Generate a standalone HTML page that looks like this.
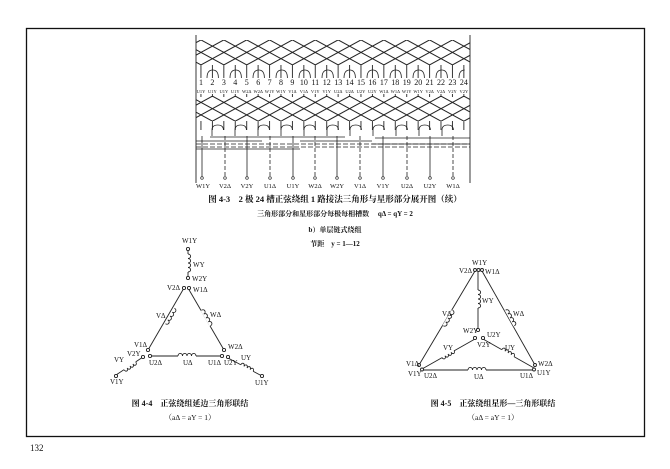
<!DOCTYPE html>
<html><head><meta charset="utf-8"><style>
html,body{margin:0;padding:0;background:#fff}
svg{display:block}
text{font-family:"Liberation Serif","Noto Serif CJK SC","Noto Sans CJK SC",serif;fill:#111}
.b{font-weight:bold}
</style></head><body>
<svg width="670" height="469" viewBox="0 0 670 469" xmlns="http://www.w3.org/2000/svg">
<defs>
<pattern id="lat" x="201" y="40" width="22.86" height="12.5" patternUnits="userSpaceOnUse">
<path d="M0,0 L22.86,12.5 M22.86,0 L0,12.5" stroke="#222" stroke-width="0.8" fill="none"/>
</pattern>
<pattern id="lat2" x="212.4" y="46" width="22.86" height="12.5" patternUnits="userSpaceOnUse">
<path d="M0,0 L22.86,12.5 M22.86,0 L0,12.5" stroke="#222" stroke-width="0.7" fill="none"/>
</pattern>
<pattern id="vt" x="200.5" y="0" width="11.43" height="10" patternUnits="userSpaceOnUse">
<rect x="0" y="0" width="0.9" height="10" fill="#222"/>
</pattern>
</defs>
<rect x="0" y="0" width="670" height="469" fill="#fff"/>
<rect x="26.5" y="28.5" width="618" height="408" fill="none" stroke="#111" stroke-width="1.3"/>
<text x="30" y="451" font-size="9">132</text>

<line x1="196" y1="35" x2="196" y2="183" stroke="#222" stroke-width="0.9"/>
<line x1="470" y1="35" x2="470" y2="183" stroke="#222" stroke-width="0.9"/>
<rect x="196" y="40" width="274" height="25" fill="url(#lat)"/>
<rect x="196" y="40" width="274" height="25" fill="url(#lat2)"/>
<rect x="196" y="65" width="274" height="13" fill="url(#vt)"/>
<rect x="196" y="94" width="274" height="3" fill="url(#vt)"/>
<rect x="196" y="96" width="274" height="25" fill="url(#lat)"/>
<rect x="196" y="96" width="274" height="25" fill="url(#lat2)"/>
<rect x="196" y="121" width="274" height="9" fill="url(#vt)"/>
<g fill="none" stroke="#222" stroke-width="0.8">
<path d="M207,78 q0,-8 5.7,-8 q5.7,0 5.7,8 M230,78 q0,-8 5.7,-8 q5.7,0 5.7,8 M253,78 q0,-8 5.7,-8 q5.7,0 5.7,8 M276,78 q0,-8 5.7,-8 q5.7,0 5.7,8 M299,78 q0,-8 5.7,-8 q5.7,0 5.7,8 M322,78 q0,-8 5.7,-8 q5.7,0 5.7,8 M344,78 q0,-8 5.7,-8 q5.7,0 5.7,8 M367,78 q0,-8 5.7,-8 q5.7,0 5.7,8 M390,78 q0,-8 5.7,-8 q5.7,0 5.7,8 M413,78 q0,-8 5.7,-8 q5.7,0 5.7,8 M436,78 q0,-8 5.7,-8 q5.7,0 5.7,8 M459,78 q0,-8 5.7,-8"/>
<path d="M212,136 V130 q0,-5 5.7,-5 q5.7,0 5.7,5 M235,136 V130 q0,-5 5.7,-5 q5.7,0 5.7,5 M258,136 V130 q0,-5 5.7,-5 q5.7,0 5.7,5 M281,136 V130 q0,-5 5.7,-5 q5.7,0 5.7,5 M304,136 V130 q0,-5 5.7,-5 q5.7,0 5.7,5 M327,136 V130 q0,-5 5.7,-5 q5.7,0 5.7,5 M350,136 V130 q0,-5 5.7,-5 q5.7,0 5.7,5 M373,136 V130 q0,-5 5.7,-5 q5.7,0 5.7,5 M396,136 V130 q0,-5 5.7,-5 q5.7,0 5.7,5 M419,136 V130 q0,-5 5.7,-5 q5.7,0 5.7,5 M442,136 V130 q0,-5 5.7,-5 q5.7,0 5.7,5"/>
<path d="M196,141 H262 M300,137 H345 M375,138 H470 M196,149 H300"/>
<path d="M196,144 H470 M196,147 H470" stroke-dasharray="5,2"/>
<path d="M210,137 H300 M300,141 H372 M372,144 H470"/>
<path d="M202,136 V177 M247,136 V177 M293,136 V177 M337,136 V177 M383,136 V177 M430,136 V177"/>
<path d="M225,136 V177 M270,136 V177 M315,136 V177 M360,136 V177 M407,136 V177 M453,136 V177" stroke-dasharray="4,2"/>
</g>
<g fill="#fff" stroke="#222" stroke-width="0.7">
<circle cx="202" cy="178" r="1.3"/><circle cx="225" cy="178" r="1.3"/><circle cx="247" cy="178" r="1.3"/><circle cx="270" cy="178" r="1.3"/><circle cx="293" cy="178" r="1.3"/><circle cx="315" cy="178" r="1.3"/><circle cx="337" cy="178" r="1.3"/><circle cx="360" cy="178" r="1.3"/><circle cx="383" cy="178" r="1.3"/><circle cx="407" cy="178" r="1.3"/><circle cx="430" cy="178" r="1.3"/><circle cx="453" cy="178" r="1.3"/>
</g>
<g font-size="8" text-anchor="middle">
<text x="201" y="85">1</text><text x="212.4" y="85">2</text><text x="223.9" y="85">3</text><text x="235.3" y="85">4</text><text x="246.7" y="85">5</text><text x="258.2" y="85">6</text><text x="269.6" y="85">7</text><text x="281" y="85">8</text><text x="292.4" y="85">9</text><text x="303.9" y="85">10</text><text x="315.3" y="85">11</text><text x="326.7" y="85">12</text><text x="338.2" y="85">13</text><text x="349.6" y="85">14</text><text x="361" y="85">15</text><text x="372.4" y="85">16</text><text x="383.9" y="85">17</text><text x="395.3" y="85">18</text><text x="406.7" y="85">19</text><text x="418.2" y="85">20</text><text x="429.6" y="85">21</text><text x="441" y="85">22</text><text x="452.4" y="85">23</text><text x="463.9" y="85">24</text>
</g>
<g font-size="4.5" text-anchor="middle">
<text x="201" y="93">U1Y</text><text x="212.4" y="93">U1Y</text><text x="223.9" y="93">U1Y</text><text x="235.3" y="93">U1Y</text><text x="246.7" y="93">W2Δ</text><text x="258.2" y="93">W2Δ</text><text x="269.6" y="93">W1Y</text><text x="281" y="93">W1Y</text><text x="292.4" y="93">V1Δ</text><text x="303.9" y="93">V1Δ</text><text x="315.3" y="93">V1Y</text><text x="326.7" y="93">V1Y</text><text x="338.2" y="93">U2Δ</text><text x="349.6" y="93">U2Δ</text><text x="361" y="93">U2Y</text><text x="372.4" y="93">U2Y</text><text x="383.9" y="93">W1Δ</text><text x="395.3" y="93">W1Δ</text><text x="406.7" y="93">W1Y</text><text x="418.2" y="93">W1Y</text><text x="429.6" y="93">V2Δ</text><text x="441" y="93">V2Δ</text><text x="452.4" y="93">V2Y</text><text x="463.9" y="93">V2Y</text>
</g>
<g font-size="6.5" text-anchor="middle">
<text x="203" y="188">W1Y</text><text x="225" y="188">V2Δ</text><text x="247" y="188">V2Y</text><text x="270" y="188">U1Δ</text><text x="293" y="188">U1Y</text><text x="315" y="188">W2Δ</text><text x="337" y="188">W2Y</text><text x="360" y="188">V1Δ</text><text x="383" y="188">V1Y</text><text x="407" y="188">U2Δ</text><text x="430" y="188">U2Y</text><text x="453" y="188">W1Δ</text>
</g>
<g text-anchor="middle" class="b">
<text x="335" y="202" font-size="8.5" class="b">图 4-3　2 极 24 槽正弦绕组 1 路接法三角形与星形部分展开图（续）</text>
<text x="335" y="216" font-size="7" class="b">三角形部分和星形部分每极每相槽数　 qΔ = qY = 2</text>
<text x="335" y="232" font-size="7" class="b">b）单层链式绕组</text>
<text x="335" y="246" font-size="7" class="b">节距　y = 1—12</text>
</g>

<g fill="none" stroke="#222" stroke-width="0.9">
<line x1="184" y1="288" x2="148" y2="350"/>
<line x1="188" y1="288" x2="224" y2="350"/>
<line x1="150" y1="356" x2="222" y2="356"/>
<line x1="188" y1="250" x2="188" y2="277"/>
<line x1="143" y1="357" x2="116" y2="375"/>
<line x1="228" y1="358" x2="262" y2="376"/>
</g>
<g fill="#fff">
<rect x="-9" y="-1" width="18" height="2" transform="translate(170,316) rotate(120)"/>
<rect x="-9" y="-1" width="18" height="2" transform="translate(206,318) rotate(60)"/>
<rect x="-9" y="-1" width="18" height="2" transform="translate(187,356)"/>
<rect x="-9" y="-1" width="18" height="2" transform="translate(188,263) rotate(90)"/>
<rect x="-7" y="-1" width="14" height="2" transform="translate(130,366) rotate(146)"/>
<rect x="-7" y="-1" width="14" height="2" transform="translate(247,368) rotate(28)"/>
</g>
<g fill="none" stroke="#222" stroke-width="0.9">
<path d="M-9,0 a2.25,2.6 0 0 1 4.5,0 a2.25,2.6 0 0 1 4.5,0 a2.25,2.6 0 0 1 4.5,0 a2.25,2.6 0 0 1 4.5,0" transform="translate(170,316) rotate(120)"/>
<path d="M-9,0 a2.25,2.6 0 0 1 4.5,0 a2.25,2.6 0 0 1 4.5,0 a2.25,2.6 0 0 1 4.5,0 a2.25,2.6 0 0 1 4.5,0" transform="translate(206,318) rotate(60)"/>
<path d="M-9,0 a2.25,2.6 0 0 1 4.5,0 a2.25,2.6 0 0 1 4.5,0 a2.25,2.6 0 0 1 4.5,0 a2.25,2.6 0 0 1 4.5,0" transform="translate(187,356)"/>
<path d="M-9,0 a2.25,2.6 0 0 1 4.5,0 a2.25,2.6 0 0 1 4.5,0 a2.25,2.6 0 0 1 4.5,0 a2.25,2.6 0 0 1 4.5,0" transform="translate(188,263) rotate(90)"/>
<path d="M-7,0 a1.75,2.4 0 0 1 3.5,0 a1.75,2.4 0 0 1 3.5,0 a1.75,2.4 0 0 1 3.5,0 a1.75,2.4 0 0 1 3.5,0" transform="translate(130,366) rotate(146)"/>
<path d="M-7,0 a1.75,2.4 0 0 1 3.5,0 a1.75,2.4 0 0 1 3.5,0 a1.75,2.4 0 0 1 3.5,0 a1.75,2.4 0 0 1 3.5,0" transform="translate(247,368) rotate(28)"/>
</g>
<g fill="#fff" stroke="#222" stroke-width="0.9">
<circle cx="188" cy="249" r="1.6"/><circle cx="188" cy="278" r="1.6"/><circle cx="184" cy="288" r="1.6"/><circle cx="189" cy="288" r="1.6"/>
<circle cx="148" cy="350" r="1.6"/><circle cx="150" cy="356" r="1.6"/><circle cx="143" cy="357" r="1.6"/>
<circle cx="224" cy="350" r="1.6"/><circle cx="222" cy="356" r="1.6"/><circle cx="228" cy="357" r="1.6"/>
<circle cx="262" cy="376" r="1.6"/><circle cx="116" cy="376" r="1.6"/>
</g>
<g font-size="7">
<text x="182" y="243">W1Y</text><text x="193" y="267">WY</text><text x="192" y="281">W2Y</text>
<text x="167" y="290">V2Δ</text><text x="193" y="292">W1Δ</text>
<text x="156" y="318">VΔ</text><text x="210" y="317">WΔ</text>
<text x="134" y="347">V1Δ</text><text x="228" y="349">W2Δ</text>
<text x="127" y="356">V2Y</text><text x="149" y="365">U2Δ</text><text x="183" y="365">UΔ</text>
<text x="208" y="365">U1Δ</text><text x="224" y="365">U2Y</text><text x="241" y="360">UY</text>
<text x="114" y="362">VY</text><text x="110" y="384">V1Y</text><text x="255" y="385">U1Y</text>
</g>
<text x="190" y="406" font-size="8" text-anchor="middle" class="b">图 4-4　正弦绕组延边三角形联结</text>
<text x="190" y="420" font-size="7.5" text-anchor="middle">（aΔ = aY = 1）</text>

<g fill="none" stroke="#222" stroke-width="0.9">
<line x1="475" y1="271" x2="419" y2="365"/>
<line x1="482" y1="271" x2="535" y2="365"/>
<line x1="422" y1="370" x2="534" y2="370"/>
<line x1="478" y1="272" x2="478" y2="329"/>
<line x1="475" y1="339" x2="422" y2="369"/>
<line x1="483" y1="339" x2="534" y2="368"/>
</g>
<g fill="#fff">
<rect x="-9" y="-1" width="18" height="2" transform="translate(448,318) rotate(121)"/>
<rect x="-9" y="-1" width="18" height="2" transform="translate(510,318) rotate(61)"/>
<rect x="-9" y="-1" width="18" height="2" transform="translate(477,370)"/>
<rect x="-9" y="-1" width="18" height="2" transform="translate(478,299) rotate(90)"/>
<rect x="-7" y="-1" width="14" height="2" transform="translate(448,354) rotate(150)"/>
<rect x="-7" y="-1" width="14" height="2" transform="translate(508,353) rotate(30)"/>
</g>
<g fill="none" stroke="#222" stroke-width="0.9">
<path d="M-9,0 a2.25,2.6 0 0 1 4.5,0 a2.25,2.6 0 0 1 4.5,0 a2.25,2.6 0 0 1 4.5,0 a2.25,2.6 0 0 1 4.5,0" transform="translate(448,318) rotate(121)"/>
<path d="M-9,0 a2.25,2.6 0 0 1 4.5,0 a2.25,2.6 0 0 1 4.5,0 a2.25,2.6 0 0 1 4.5,0 a2.25,2.6 0 0 1 4.5,0" transform="translate(510,318) rotate(61)"/>
<path d="M-9,0 a2.25,2.6 0 0 1 4.5,0 a2.25,2.6 0 0 1 4.5,0 a2.25,2.6 0 0 1 4.5,0 a2.25,2.6 0 0 1 4.5,0" transform="translate(477,370)"/>
<path d="M-9,0 a2.25,2.6 0 0 1 4.5,0 a2.25,2.6 0 0 1 4.5,0 a2.25,2.6 0 0 1 4.5,0 a2.25,2.6 0 0 1 4.5,0" transform="translate(478,299) rotate(90)"/>
<path d="M-7,0 a1.75,2.4 0 0 1 3.5,0 a1.75,2.4 0 0 1 3.5,0 a1.75,2.4 0 0 1 3.5,0 a1.75,2.4 0 0 1 3.5,0" transform="translate(448,354) rotate(150)"/>
<path d="M-7,0 a1.75,2.4 0 0 1 3.5,0 a1.75,2.4 0 0 1 3.5,0 a1.75,2.4 0 0 1 3.5,0 a1.75,2.4 0 0 1 3.5,0" transform="translate(508,353) rotate(30)"/>
</g>
<g fill="#fff" stroke="#222" stroke-width="0.9">
<circle cx="475" cy="270" r="1.5"/><circle cx="478.5" cy="270" r="1.5"/><circle cx="482" cy="270" r="1.5"/>
<circle cx="478" cy="330" r="1.6"/><circle cx="475" cy="338" r="1.6"/><circle cx="483" cy="338" r="1.6"/>
<circle cx="419" cy="365" r="1.5"/><circle cx="422" cy="369.5" r="1.5"/>
<circle cx="535" cy="365" r="1.5"/><circle cx="534" cy="369.5" r="1.5"/>
</g>
<g font-size="7">
<text x="472" y="265">W1Y</text><text x="459" y="273">V2Δ</text><text x="485" y="274">W1Δ</text>
<text x="482" y="303">WY</text><text x="442" y="316">VΔ</text><text x="513" y="316">WΔ</text>
<text x="463" y="333">W2Y</text><text x="487" y="337">U2Y</text><text x="477" y="347">V2Y</text>
<text x="443" y="350">VY</text><text x="505" y="350">UY</text>
<text x="406" y="366">V1Δ</text><text x="408" y="376">V1Y</text><text x="424" y="378">U2Δ</text>
<text x="538" y="366">W2Δ</text><text x="537" y="375">U1Y</text><text x="520" y="378">U1Δ</text>
<text x="474" y="379">UΔ</text>
</g>
<text x="493" y="406" font-size="8" text-anchor="middle" class="b">图 4-5　正弦绕组星形—三角形联结</text>
<text x="493" y="420" font-size="7.5" text-anchor="middle">（aΔ = aY = 1）</text>
</svg>
</body></html>
